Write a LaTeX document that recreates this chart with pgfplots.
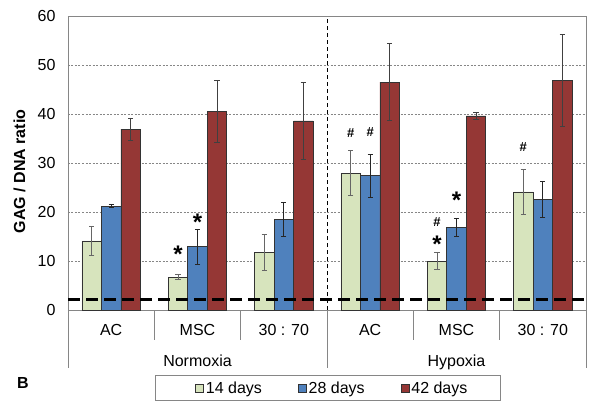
\documentclass[border=0pt]{standalone}
\usepackage{pgfplots}
\pgfplotsset{compat=1.18}
\usepackage{pgfplotstable}
\usepackage{fontspec}
\setmainfont{Liberation Sans}
\definecolor{cgreen}{RGB}{215,228,189}
\definecolor{cblue}{RGB}{79,129,189}
\definecolor{cred}{RGB}{149,55,53}
\definecolor{cgray}{RGB}{134,134,134}
\pgfplotstableread{
x y e
0 14.1 2.9
1 6.7 0.55
2 11.7 3.7
3 27.9 4.6
4 10.0 1.75
5 24.1 4.6
}\tgreen
\pgfplotstableread{
x y e
0 21.2 0.3
1 12.9 3.5
2 18.5 3.45
3 27.4 4.4
4 16.9 1.85
5 22.6 3.65
}\tblue
\pgfplotstableread{
x y e
0 36.9 2.3
1 40.5 6.3
2 38.6 7.8
3 46.5 7.9
4 39.6 0.65
5 46.9 9.4
}\tred
\begin{document}
\begin{tikzpicture}
\path[use as bounding box] (-68pt,-97pt) rectangle (532pt,310pt);
\begin{axis}[
  scale only axis, width=518pt, height=294pt,
  xmin=-0.5, xmax=5.5, ymin=0, ymax=60,
  ytick={0,10,...,60},
  xtick={0,...,5},
  xticklabels={AC,MSC,30 : 70,AC,MSC,30 : 70},
  major tick length=0pt,
  ymajorgrids,
  grid style={cgray, dash pattern=on 2pt off 1.5pt, line width=0.5pt},
  axis line style={cgray, line width=0.8pt},
  /pgf/number format/assume math mode=true,
  tick label style={font=\fontsize{16}{18}\selectfont},
  yticklabel style={anchor=east, xshift=-9pt},
  xticklabel style={anchor=base, yshift=-25pt},
  ybar=0pt, bar width=19.5pt,
  clip=false,
  legend columns=3,
  legend style={at={(axis description cs:0,0)}, anchor=west, xshift=127pt, yshift=-78pt,
    draw=none, fill=none, font=\fontsize{16}{18}\selectfont, inner sep=0pt,
    nodes={inner xsep=2pt, inner ysep=2pt},
    /tikz/every even column/.append style={column sep=34pt}},
  legend cell align=left,
  legend image code/.code={\draw[#1] (0pt,-4pt) rectangle (8pt,4pt);},
  error bars/y dir=both, error bars/y explicit,
  error bars/error mark options={rotate=90, mark size=2.6pt, line width=0.8pt},
]
\addplot[fill=cgreen, draw=black!80, line width=0.7pt,
  error bars/error bar style={black!60, line width=0.9pt},
  error bars/error mark options={rotate=90, mark size=2.6pt, black!60, line width=0.8pt}]
  table[x=x, y=y, y error=e] {\tgreen};
\addlegendentry{14 days}
\addplot[fill=cblue, draw=black!80, line width=0.7pt,
  error bars/error bar style={black!85, line width=0.9pt}]
  table[x=x, y=y, y error=e] {\tblue};
\addlegendentry{28 days}
\addplot[fill=cred, draw=black!80, line width=0.7pt,
  error bars/error bar style={black!75, line width=0.9pt}]
  table[x=x, y=y, y error=e] {\tred};
\addlegendentry{42 days}
% reference lines
\draw[black, line width=0.6pt, dash pattern=on 4pt off 3pt] (axis cs:2.5,0) -- (axis cs:2.5,60);
\draw[black, line width=2.6pt, dash pattern=on 12pt off 6pt] (axis cs:-0.5,2.2) -- (axis cs:5.5,2.2);
% separators
\draw[cgray, line width=0.8pt] (axis cs:0.5,0) -- ([yshift=-30pt]axis cs:0.5,0);
\draw[cgray, line width=0.8pt] (axis cs:1.5,0) -- ([yshift=-30pt]axis cs:1.5,0);
\draw[cgray, line width=0.8pt] (axis cs:3.5,0) -- ([yshift=-30pt]axis cs:3.5,0);
\draw[cgray, line width=0.8pt] (axis cs:4.5,0) -- ([yshift=-30pt]axis cs:4.5,0);
\draw[cgray, line width=0.8pt] (axis cs:-0.5,0) -- ([yshift=-58pt]axis cs:-0.5,0);
\draw[cgray, line width=0.8pt] (axis cs:2.5,0) -- ([yshift=-58pt]axis cs:2.5,0);
\draw[cgray, line width=0.8pt] (axis cs:5.5,0) -- ([yshift=-58pt]axis cs:5.5,0);
\node[anchor=base, font=\fontsize{16}{18}\selectfont] at ([yshift=-56pt]axis cs:1,0) {Normoxia};
\node[anchor=base, font=\fontsize{16}{18}\selectfont] at ([yshift=-56pt]axis cs:4,0) {Hypoxia};
% significance marks
\node[font=\fontsize{24}{24}\selectfont\bfseries] at (axis cs:0.774,11.4) {*};
\node[font=\fontsize{24}{24}\selectfont\bfseries] at (axis cs:1.0,18.0) {*};
\node[font=\fontsize{24}{24}\selectfont\bfseries] at (axis cs:3.774,13.5) {*};
\node[font=\fontsize{24}{24}\selectfont\bfseries] at (axis cs:4.0,22.3) {*};
\node[font=\fontsize{13}{13}\selectfont\bfseries] at (axis cs:2.774,36.1) {\#};
\node[font=\fontsize{13}{13}\selectfont\bfseries] at (axis cs:3.0,36.3) {\#};
\node[font=\fontsize{13}{13}\selectfont\bfseries] at (axis cs:3.774,18.0) {\#};
\node[font=\fontsize{13}{13}\selectfont\bfseries] at (axis cs:4.774,33.3) {\#};
\end{axis}
\draw[cgray, line width=0.8pt] (87pt,-65pt) rectangle (432.5pt,-90.5pt);
\node[rotate=90, font=\fontsize{16}{18}\selectfont\bfseries] at (-48.5pt,138.5pt) {GAG / DNA ratio};
\node[font=\fontsize{16}{18}\selectfont\bfseries] at (-45pt,-73pt) {B};
\end{tikzpicture}
\end{document}
